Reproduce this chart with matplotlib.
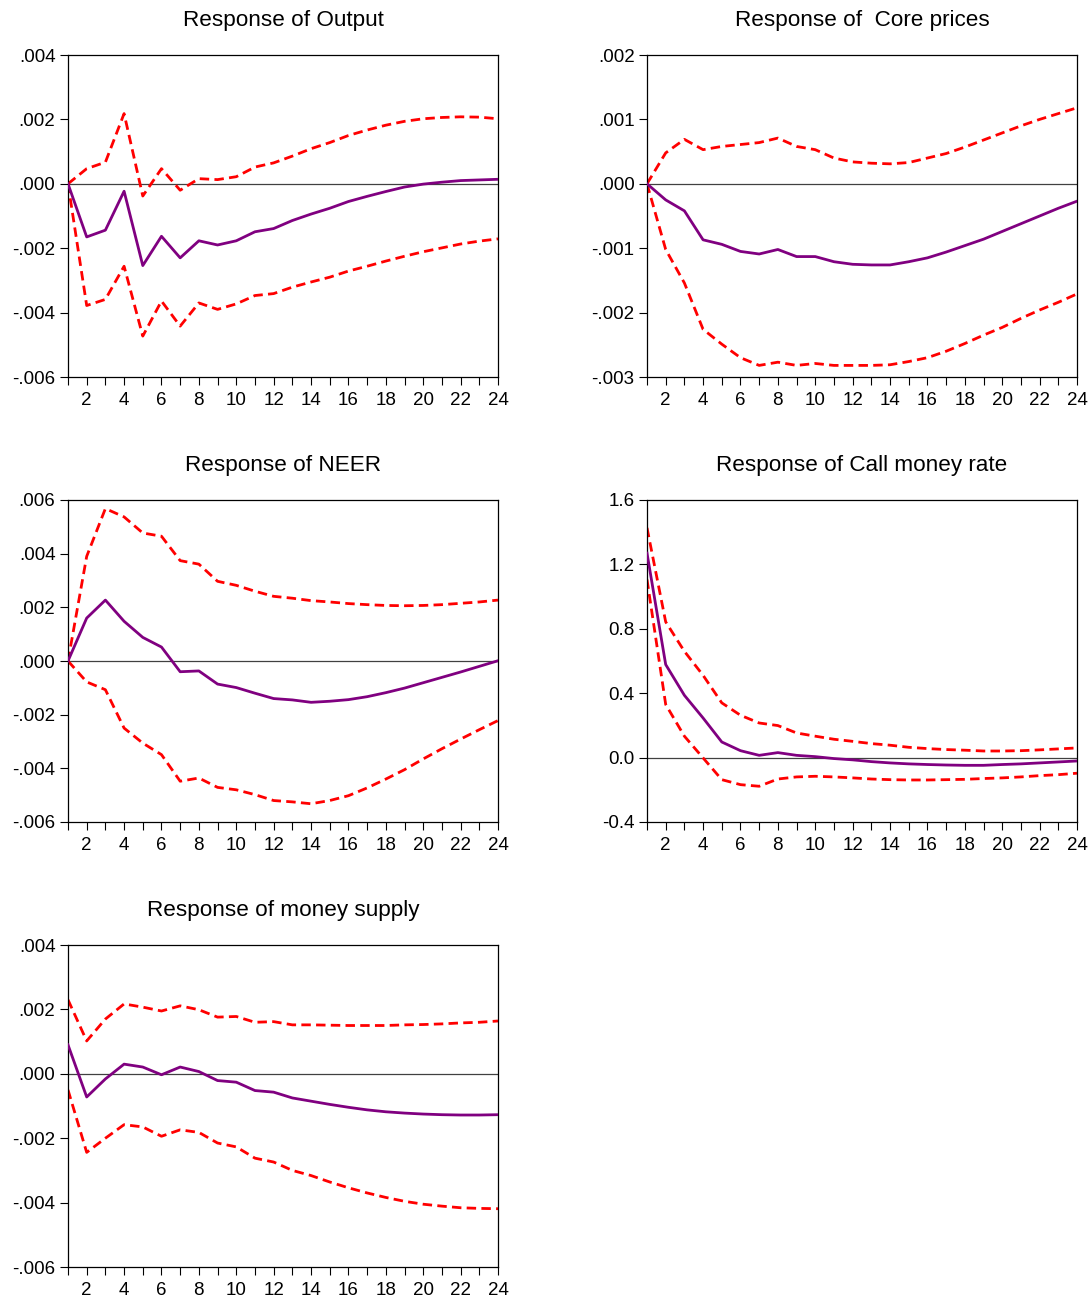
import matplotlib
matplotlib.use("Agg")
import matplotlib.pyplot as plt
from matplotlib.ticker import FixedLocator

plt.rcParams['font.family'] = ['Liberation Sans', 'DejaVu Sans']

periods = list(range(1, 25))

# Response of Output
out_mid = [0, -0.00165, -0.00144, -0.00023, -0.00254, -0.00163, -0.0023, -0.00177, -0.0019, -0.00177,
           -0.00149, -0.00139, -0.00114, -0.00094, -0.00076, -0.00055, -0.00039, -0.00024, -0.0001, -0.00001,
           0.00005, 0.0001, 0.00012, 0.00014]
out_hi = [0, 0.00047, 0.00067, 0.00218, -0.00038, 0.00047, -0.0002, 0.00016, 0.00013, 0.00022,
          0.00052, 0.00065, 0.00086, 0.00109, 0.00128, 0.0015, 0.00167, 0.00182, 0.00194, 0.00202,
          0.00206, 0.00208, 0.00207, 0.00202]
out_lo = [0, -0.00378, -0.00359, -0.00256, -0.00473, -0.00364, -0.00442, -0.0037, -0.0039, -0.00373,
          -0.00347, -0.00341, -0.00321, -0.00305, -0.0029, -0.00271, -0.00256, -0.0024, -0.00225, -0.00211,
          -0.00199, -0.00187, -0.00178, -0.00171]

# Response of Core prices
core_mid = [0, -0.00025, -0.00042, -0.00087, -0.00094, -0.00105, -0.00109, -0.00102, -0.00113, -0.00113,
            -0.00121, -0.00125, -0.00126, -0.00126, -0.00121, -0.00115, -0.00106, -0.00096, -0.00086, -0.00074,
            -0.00062, -0.0005, -0.00038, -0.00027]
core_hi = [0, 0.00048, 0.00069, 0.00053, 0.00058, 0.00061, 0.00064, 0.00071, 0.00058, 0.00053,
           0.0004, 0.00034, 0.00032, 0.00031, 0.00033, 0.0004, 0.00047, 0.00057, 0.00068, 0.00079,
           0.0009, 0.001, 0.00109, 0.00118]
core_lo = [0, -0.00102, -0.00154, -0.00226, -0.00249, -0.0027, -0.00282, -0.00277, -0.00282, -0.00279,
           -0.00282, -0.00282, -0.00282, -0.00281, -0.00276, -0.0027, -0.0026, -0.00248, -0.00235, -0.00223,
           -0.00209, -0.00196, -0.00184, -0.00171]

# Response of NEER
neer_mid = [0, 0.0016, 0.00227, 0.00148, 0.00088, 0.00052, -0.0004, -0.00037, -0.00086, -0.00099,
            -0.0012, -0.0014, -0.00145, -0.00154, -0.0015, -0.00144, -0.00133, -0.00118, -0.00101, -0.00081,
            -0.00061, -0.00041, -0.0002, 0.00001]
neer_hi = [0, 0.0039, 0.00568, 0.00537, 0.00477, 0.00465, 0.00374, 0.00361, 0.00297, 0.00282,
           0.0026, 0.00241, 0.00234, 0.00225, 0.0022, 0.00214, 0.0021, 0.00207, 0.00206, 0.00207,
           0.0021, 0.00215, 0.0022, 0.00227]
neer_lo = [0, -0.00078, -0.00107, -0.0025, -0.00306, -0.00349, -0.00448, -0.00436, -0.00471, -0.0048,
           -0.00498, -0.0052, -0.00525, -0.00532, -0.0052, -0.00502, -0.00473, -0.0044, -0.00405, -0.00365,
           -0.00327, -0.00291, -0.00256, -0.00222]

# Response of Call money rate
call_mid = [1.27, 0.578, 0.387, 0.246, 0.097, 0.043, 0.014, 0.031, 0.014, 0.006,
            -0.006, -0.014, -0.025, -0.033, -0.039, -0.043, -0.046, -0.048, -0.048, -0.043,
            -0.039, -0.033, -0.027, -0.021]
call_hi = [1.427, 0.843, 0.66, 0.511, 0.34, 0.263, 0.215, 0.199, 0.153, 0.133,
           0.114, 0.101, 0.087, 0.077, 0.064, 0.056, 0.05, 0.046, 0.041, 0.041,
           0.043, 0.048, 0.054, 0.06]
call_lo = [1.106, 0.33, 0.133, -0.002, -0.137, -0.168, -0.178, -0.133, -0.12, -0.116,
           -0.12, -0.126, -0.133, -0.137, -0.139, -0.139, -0.137, -0.135, -0.13, -0.126,
           -0.12, -0.112, -0.106, -0.097]

# Response of money supply
money_mid = [0.0009, -0.00072, -0.00016, 0.0003, 0.00021, -0.00003, 0.00021, 0.00007, -0.00021, -0.00026,
             -0.00052, -0.00057, -0.00075, -0.00085, -0.00095, -0.00104, -0.00112, -0.00118, -0.00122, -0.00125,
             -0.00127, -0.00128, -0.00128, -0.00127]
money_hi = [0.0023, 0.00102, 0.0017, 0.00217, 0.00207, 0.00195, 0.00211, 0.00199, 0.00176, 0.00178,
            0.0016, 0.00162, 0.00152, 0.00152, 0.00151, 0.0015, 0.0015, 0.0015, 0.00152, 0.00153,
            0.00155, 0.00158, 0.0016, 0.00164]
money_lo = [-0.0005, -0.00244, -0.002, -0.00158, -0.00165, -0.00194, -0.00174, -0.00182, -0.00215, -0.00227,
            -0.00262, -0.00274, -0.003, -0.00316, -0.00336, -0.00354, -0.0037, -0.00384, -0.00396, -0.00405,
            -0.00411, -0.00416, -0.00418, -0.00419]

titles = ["Response of Output", "Response of  Core prices", "Response of NEER",
          "Response of Call money rate", "Response of money supply"]

ticks_a = [-0.006, -0.004, -0.002, 0.0, 0.002, 0.004]
labels_a = ["-.006", "-.004", "-.002", ".000", ".002", ".004"]
ticks_b = [-0.003, -0.002, -0.001, 0.0, 0.001, 0.002]
labels_b = ["-.003", "-.002", "-.001", ".000", ".001", ".002"]
ticks_c = [-0.006, -0.004, -0.002, 0.0, 0.002, 0.004, 0.006]
labels_c = ["-.006", "-.004", "-.002", ".000", ".002", ".004", ".006"]
ticks_d = [-0.4, 0.0, 0.4, 0.8, 1.2, 1.6]
labels_d = ["-0.4", "0.0", "0.4", "0.8", "1.2", "1.6"]

panels = [
    (out_mid, out_hi, out_lo, ticks_a, labels_a),
    (core_mid, core_hi, core_lo, ticks_b, labels_b),
    (neer_mid, neer_hi, neer_lo, ticks_c, labels_c),
    (call_mid, call_hi, call_lo, ticks_d, labels_d),
    (money_mid, money_hi, money_lo, ticks_a, labels_a),
]

W, H = 1091, 1297
fig = plt.figure(figsize=(W / 100, H / 100), dpi=100)

lefts = [68, 647]
tops = [55, 500, 945]
aw, ah = 430, 322

purple = "#800080"
red = "#FF0000"

for i, (mid, hi, lo, yt, yl) in enumerate(panels):
    r, c = divmod(i, 2)
    ax = fig.add_axes([lefts[c] / W, 1 - (tops[r] + ah) / H, aw / W, ah / H])
    ax.axhline(0, color="#404040", lw=0.9, zorder=1)
    ax.plot(periods, hi, color=red, lw=2.0, ls=(0, (3.4, 1.9)), zorder=2)
    ax.plot(periods, lo, color=red, lw=2.0, ls=(0, (3.4, 1.9)), zorder=2)
    ax.plot(periods, mid, color=purple, lw=2.0, zorder=3)
    ax.set_xlim(1, 24)
    ax.set_ylim(yt[0], yt[-1])
    ax.set_yticks(yt)
    ax.set_yticklabels(yl)
    ax.set_xticks(list(range(2, 25, 2)))
    ax.xaxis.set_minor_locator(FixedLocator(list(range(1, 25))))
    ax.tick_params(axis="both", which="both", direction="out", length=5.5, width=0.8,
                   labelsize=13.5, colors="black")
    ax.tick_params(axis="x", pad=5)
    ax.tick_params(axis="y", pad=3.5)
    for s in ax.spines.values():
        s.set_linewidth(0.9)
    ax.set_title(titles[i], fontsize=16.2, pad=21)

fig.savefig("out.png", dpi=100)
